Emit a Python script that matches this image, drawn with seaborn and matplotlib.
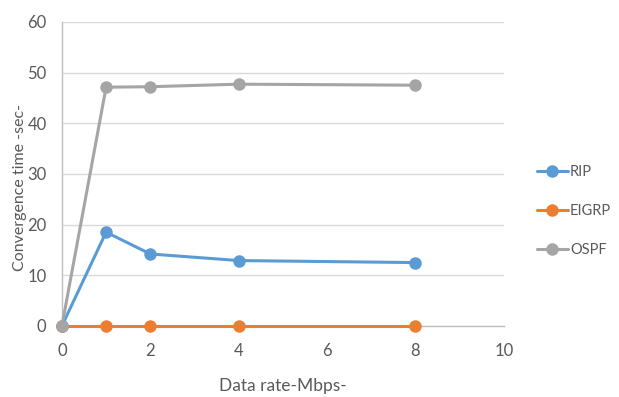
import pandas as pd
import seaborn as sns
import matplotlib.pyplot as plt

data_rate = [0, 1, 2, 4, 8]
rip = [0, 18.5, 14.2, 12.9, 12.5]
eigrp = [0, 0, 0, 0, 0]
ospf = [0, 47.1, 47.2, 47.7, 47.5]
protocols = ['RIP', 'EIGRP', 'OSPF']
colors = ['#5B9BD5', '#ED7D31', '#A5A5A5']

df = pd.DataFrame({
    'rate': data_rate * 3,
    'time': rip + eigrp + ospf,
    'protocol': [p for p in protocols for _ in data_rate],
})

sns.set_style('white')
plt.rcParams['font.family'] = ['Lato', 'DejaVu Sans']
txt = '#595959'

fig = plt.figure(figsize=(6.19, 3.97), dpi=100)
ax = fig.add_axes([0.100, 0.179, 0.714, 0.766])
sns.lineplot(data=df, x='rate', y='time', hue='protocol', hue_order=protocols,
             palette=colors, marker='o', markersize=9, markeredgewidth=0,
             linewidth=2.2, ax=ax, clip_on=False, zorder=3)

ax.set_xlim(0, 10)
ax.set_ylim(0, 60)
ax.set_xticks([0, 2, 4, 6, 8, 10])
ax.set_yticks(range(0, 61, 10))
ax.yaxis.grid(True, color='#D9D9D9', linewidth=1)
ax.set_axisbelow(True)
for s in ['top', 'right']:
    ax.spines[s].set_visible(False)
for s in ['left', 'bottom']:
    ax.spines[s].set_color('#BFBFBF')
    ax.spines[s].set_linewidth(1)
ax.tick_params(axis='x', length=5, color='#BFBFBF', labelsize=12, labelcolor=txt, pad=7)
ax.tick_params(axis='y', length=5, color='#D9D9D9', labelsize=12, labelcolor=txt, pad=6)
ax.set_xlabel('Data rate-Mbps-', fontsize=12.5, color=txt, labelpad=14)
ax.set_ylabel('Convergence time -sec-', fontsize=11.5, color=txt)
ax.yaxis.set_label_coords(-0.08, 0.454)

leg = ax.legend(loc='center left', bbox_to_anchor=(1.062, 0.378), frameon=False,
                fontsize=10.5, labelspacing=1.7, handlelength=2.1, handletextpad=0.15,
                borderaxespad=0)
for t in leg.get_texts():
    t.set_color(txt)

plt.savefig('out.png', dpi=100)
